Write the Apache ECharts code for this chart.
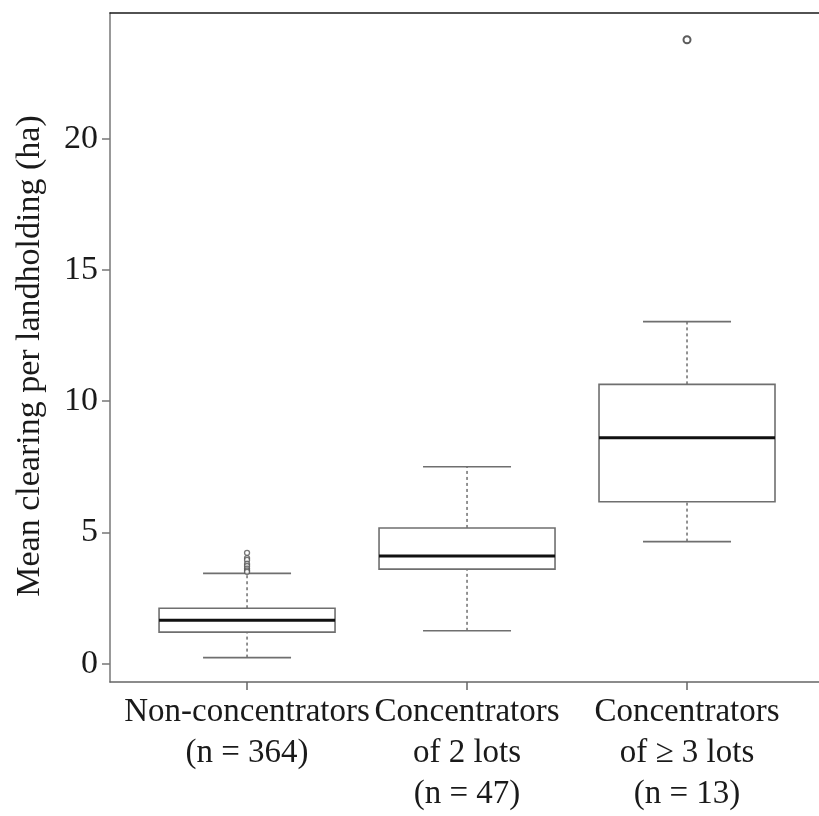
<!DOCTYPE html>
<html>
<head>
<meta charset="utf-8">
<script src="https://cdn.jsdelivr.net/npm/echarts@6/dist/echarts.min.js"></script>
<style>
  html, body { margin: 0; padding: 0; background: #fff; }
  #chart { width: 819px; height: 816px; }
</style>
</head>
<body>
<div id="chart"></div>
<script>
// Group labels shown under each box
const categories = [
  'Non-concentrators\n(n = 364)',
  'Concentrators\nof 2 lots\n(n = 47)',
  'Concentrators\nof \u2265 3 lots\n(n = 13)'
];
const positions = [1, 2, 3];

// Five-number summaries (ha)
const lowerWhisker = [0.23, 1.25, 4.65];
const q1 = [1.20, 3.60, 6.17];
const median = [1.65, 4.10, 8.61];
const q3 = [2.11, 5.17, 10.64];
const upperWhisker = [3.44, 7.50, 13.03];

// Points beyond the whiskers
const outliersNonConc = [4.22, 4.02, 3.95, 3.80, 3.72, 3.62, 3.55, 3.50];
const outliersConc3 = [23.77];

const yTicks = [0, 5, 10, 15, 20];
const yTitle = 'Mean clearing per landholding (ha)';

const FONT = "'Liberation Serif', 'Times New Roman', serif";
const FONT_SIZE = 34;
const X_FONT_SIZE = 33;
const TEXT = '#1a1a1a';
const BOX_GREY = '#6f6f6f';

const boxData = positions.map((p, i) =>
  [p, lowerWhisker[i], q1[i], median[i], q3[i], upperWhisker[i]]);

function renderBox(params, api) {
  const x = api.value(0);
  const w = api.size([0.8, 0])[0];
  const cap = w / 2;
  const pLw = api.coord([x, api.value(1)]);
  const pQ1 = api.coord([x, api.value(2)]);
  const pMed = api.coord([x, api.value(3)]);
  const pQ3 = api.coord([x, api.value(4)]);
  const pUw = api.coord([x, api.value(5)]);
  const cx = pMed[0];
  const dashed = { stroke: BOX_GREY, lineWidth: 1.5, lineDash: [3, 3] };
  const solid = { stroke: BOX_GREY, lineWidth: 1.6 };
  return {
    type: 'group',
    children: [
      { type: 'line', shape: { x1: cx, y1: pLw[1], x2: cx, y2: pQ1[1] }, style: dashed },
      { type: 'line', shape: { x1: cx, y1: pQ3[1], x2: cx, y2: pUw[1] }, style: dashed },
      { type: 'line', shape: { x1: cx - cap / 2, y1: pLw[1], x2: cx + cap / 2, y2: pLw[1] }, style: solid },
      { type: 'line', shape: { x1: cx - cap / 2, y1: pUw[1], x2: cx + cap / 2, y2: pUw[1] }, style: solid },
      { type: 'rect', shape: { x: cx - w / 2, y: pQ3[1], width: w, height: pQ1[1] - pQ3[1] },
        style: { fill: '#fff', stroke: BOX_GREY, lineWidth: 1.6 } },
      { type: 'line', shape: { x1: cx - w / 2, y1: pMed[1], x2: cx + w / 2, y2: pMed[1] },
        style: { stroke: '#111', lineWidth: 3 } }
    ]
  };
}

const chart = echarts.init(document.getElementById('chart'), null, { renderer: 'canvas' });

chart.setOption({
  animation: false,
  backgroundColor: '#ffffff',
  grid: { left: 110, right: 0, top: 13, bottom: 134 },
  xAxis: [
    {
      type: 'value',
      min: 0.377,
      max: 3.6,
      position: 'bottom',
      splitLine: { show: false },
      axisLine: { show: true, onZero: false, lineStyle: { color: '#666', width: 1.5 } },
      axisTick: { show: true, interval: 0, customValues: positions, length: 8, lineStyle: { color: '#666', width: 1.5 } },
      axisLabel: {
        customValues: positions,
        interval: 0,
        formatter: v => categories[Math.round(v) - 1],
        showMinLabel: true,
        showMaxLabel: true,
        hideOverlap: false,
        margin: 10,
        color: TEXT,
        fontFamily: FONT,
        fontSize: X_FONT_SIZE,
        lineHeight: 41
      }
    },
    {
      type: 'value',
      min: 0.377,
      max: 3.6,
      position: 'top',
      splitLine: { show: false },
      axisLine: { show: true, onZero: false, lineStyle: { color: '#1a1a1a', width: 1.5 } },
      axisTick: { show: false },
      axisLabel: { show: false }
    }
  ],
  yAxis: {
    type: 'value',
    min: -0.7,
    max: 24.79,
    splitLine: { show: false },
    axisLine: { show: true, onZero: false, lineStyle: { color: '#777', width: 1.5 } },
    axisTick: { show: true, customValues: yTicks, length: 8, lineStyle: { color: '#777', width: 1.5 } },
    axisLabel: {
      customValues: yTicks,
      showMinLabel: true,
      showMaxLabel: true,
      margin: 12,
      color: TEXT,
      fontFamily: FONT,
      fontSize: FONT_SIZE
    }
  },
  graphic: [
    {
      type: 'text',
      x: 30,
      y: 356,
      rotation: Math.PI / 2,
      style: {
        text: yTitle,
        fill: TEXT,
        font: FONT_SIZE + 'px ' + FONT,
        align: 'center',
        verticalAlign: 'middle'
      }
    }
  ],
  series: [
    {
      type: 'custom',
      xAxisIndex: 0,
      renderItem: renderBox,
      encode: { x: 0, y: [1, 2, 3, 4, 5] },
      data: boxData,
      z: 2
    },
    {
      type: 'scatter',
      xAxisIndex: 0,
      symbol: 'circle',
      symbolSize: 5,
      itemStyle: { color: '#fff', borderColor: '#555', borderWidth: 1.3 },
      data: outliersNonConc.map(v => [positions[0], v]),
      z: 3
    },
    {
      type: 'scatter',
      xAxisIndex: 0,
      symbol: 'circle',
      symbolSize: 7,
      itemStyle: { color: '#fff', borderColor: '#333', borderWidth: 2 },
      data: outliersConc3.map(v => [positions[2], v]),
      z: 3
    }
  ]
});
</script>
</body>
</html>
